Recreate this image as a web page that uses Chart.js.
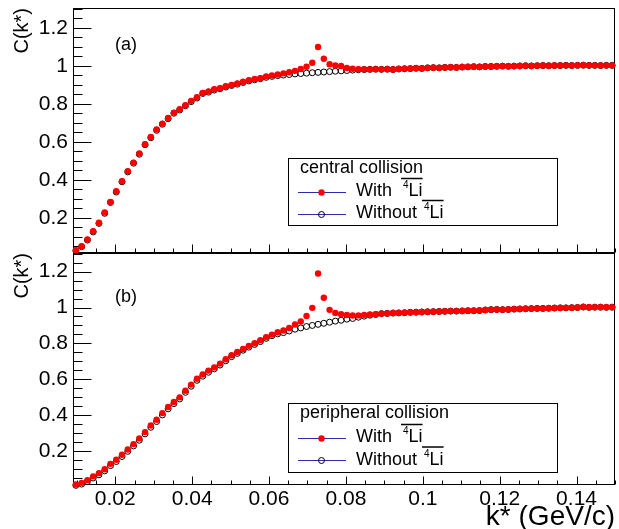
<!DOCTYPE html>
<html>
<head>
<meta charset="utf-8">
<script src="https://cdn.jsdelivr.net/npm/chart.js@4.4.0/dist/chart.umd.min.js"></script>
<style>
  html, body { margin: 0; padding: 0; background: #fff; }
  #wrap { position: relative; width: 619px; height: 529px; }
  #wrap canvas { position: absolute; left: 0; top: 0; }
</style>
</head>
<body>
<div id="wrap">
  <canvas id="centralChart" width="619" height="529"></canvas>
  <canvas id="peripheralChart" width="619" height="529"></canvas>
</div>
<script>
// k* bin centres (GeV/c)
const kStar = [
  0.00975, 0.01125, 0.01275, 0.01425, 0.01575, 0.01725, 0.01875, 0.02025, 0.02175, 0.02325,
  0.02475, 0.02625, 0.02775, 0.02925, 0.03075, 0.03225, 0.03375, 0.03525, 0.03675, 0.03825,
  0.03975, 0.04125, 0.04275, 0.04425, 0.04575, 0.04725, 0.04875, 0.05025, 0.05175, 0.05325,
  0.05475, 0.05625, 0.05775, 0.05925, 0.06075, 0.06225, 0.06375, 0.06525, 0.06675, 0.06825,
  0.06975, 0.07125, 0.07275, 0.07425, 0.07575, 0.07725, 0.07875, 0.08025, 0.08175, 0.08325,
  0.08475, 0.08625, 0.08775, 0.08925, 0.09075, 0.09225, 0.09375, 0.09525, 0.09675, 0.09825,
  0.09975, 0.10125, 0.10275, 0.10425, 0.10575, 0.10725, 0.10875, 0.11025, 0.11175, 0.11325,
  0.11475, 0.11625, 0.11775, 0.11925, 0.12075, 0.12225, 0.12375, 0.12525, 0.12675, 0.12825,
  0.12975, 0.13125, 0.13275, 0.13425, 0.13575, 0.13725, 0.13875, 0.14025, 0.14175, 0.14325,
  0.14475, 0.14625, 0.14775, 0.14925
];

// (a) central collision
const centralWith = [
  0.030, 0.051, 0.086, 0.130, 0.174, 0.228, 0.284, 0.340, 0.393, 0.446,
  0.491, 0.539, 0.588, 0.626, 0.665, 0.696, 0.726, 0.754, 0.772, 0.793,
  0.816, 0.835, 0.858, 0.866, 0.877, 0.883, 0.893, 0.900, 0.908, 0.917,
  0.925, 0.931, 0.936, 0.945, 0.950, 0.955, 0.961, 0.967, 0.974, 0.984,
  0.996, 1.017, 1.100, 1.038, 1.009, 1.002, 1.000, 0.989, 0.985, 0.983,
  0.982, 0.982, 0.983, 0.982, 0.983, 0.981, 0.984, 0.985, 0.986, 0.988,
  0.987, 0.990, 0.991, 0.990, 0.992, 0.993, 0.992, 0.994, 0.995, 0.996,
  0.995, 0.997, 0.997, 0.998, 0.999, 0.998, 0.999, 1.000, 1.001, 1.000,
  1.001, 1.002, 1.001, 1.002, 1.002, 1.003, 1.002, 1.003, 1.004, 1.003,
  1.003, 1.002, 1.003, 1.003
];
const centralWithout = [
  0.027, 0.048, 0.083, 0.126, 0.171, 0.224, 0.281, 0.336, 0.390, 0.442,
  0.488, 0.535, 0.585, 0.622, 0.661, 0.693, 0.722, 0.751, 0.768, 0.790,
  0.812, 0.831, 0.855, 0.862, 0.873, 0.880, 0.889, 0.897, 0.904, 0.913,
  0.921, 0.927, 0.933, 0.940, 0.945, 0.949, 0.952, 0.955, 0.958, 0.960,
  0.962, 0.964, 0.966, 0.968, 0.970, 0.972, 0.974, 0.976, 0.978, 0.980,
  0.981, 0.982, 0.983, 0.982, 0.983, 0.981, 0.984, 0.985, 0.986, 0.988,
  0.987, 0.990, 0.991, 0.990, 0.992, 0.993, 0.992, 0.994, 0.995, 0.996,
  0.995, 0.997, 0.997, 0.998, 0.999, 0.998, 0.999, 1.000, 1.001, 1.000,
  1.001, 1.002, 1.001, 1.002, 1.002, 1.003, 1.002, 1.003, 1.004, 1.003,
  1.003, 1.002, 1.003, 1.003
];

// (b) peripheral collision
const peripheralWith = [
  0.013, 0.022, 0.037, 0.058, 0.076, 0.098, 0.128, 0.151, 0.179, 0.208,
  0.238, 0.270, 0.305, 0.342, 0.374, 0.411, 0.445, 0.473, 0.499, 0.536,
  0.570, 0.603, 0.626, 0.648, 0.666, 0.687, 0.711, 0.734, 0.752, 0.769,
  0.786, 0.801, 0.817, 0.835, 0.849, 0.862, 0.872, 0.886, 0.905, 0.922,
  0.953, 0.998, 1.190, 1.054, 0.987, 0.970, 0.962, 0.958, 0.955, 0.956,
  0.959, 0.961, 0.963, 0.966, 0.967, 0.969, 0.970, 0.971, 0.973, 0.974,
  0.975, 0.976, 0.977, 0.978, 0.979, 0.980, 0.980, 0.981, 0.982, 0.982,
  0.983, 0.986, 0.988, 0.989, 0.988, 0.989, 0.991, 0.992, 0.993, 0.994,
  0.995, 0.995, 0.996, 0.997, 0.998, 0.998, 0.999, 1.000, 1.003, 1.001,
  1.002, 1.002, 1.001, 1.002
];
const peripheralWithout = [
  0.008, 0.015, 0.029, 0.049, 0.067, 0.089, 0.118, 0.141, 0.169, 0.198,
  0.228, 0.260, 0.295, 0.332, 0.364, 0.401, 0.435, 0.464, 0.490, 0.527,
  0.561, 0.594, 0.617, 0.639, 0.658, 0.679, 0.703, 0.726, 0.744, 0.762,
  0.779, 0.794, 0.810, 0.828, 0.843, 0.853, 0.860, 0.869, 0.879, 0.886,
  0.894, 0.900, 0.906, 0.912, 0.918, 0.924, 0.929, 0.935, 0.939, 0.946,
  0.952, 0.957, 0.961, 0.966, 0.967, 0.969, 0.970, 0.971, 0.973, 0.974,
  0.975, 0.976, 0.977, 0.978, 0.979, 0.980, 0.980, 0.981, 0.982, 0.982,
  0.983, 0.986, 0.988, 0.989, 0.988, 0.989, 0.991, 0.992, 0.993, 0.994,
  0.995, 0.995, 0.996, 0.997, 0.998, 0.998, 0.999, 1.000, 1.003, 1.001,
  1.002, 1.002, 1.001, 1.002
];

const xTickLabels = ['0.02', '0.04', '0.06', '0.08', '0.1', '0.12', '0.14'];
const yTickLabels = ['0.2', '0.4', '0.6', '0.8', '1', '1.2'];

const FONT = '"Liberation Sans", Arial, Helvetica, sans-serif';

// Build {x, y} points from the arrays
function toPoints(values) {
  return kStar.map((k, i) => ({ x: k, y: values[i] }));
}

// ROOT-like tick sets: minor every step, labels only on the listed majors
function tickSet(min, max, step) {
  const out = [];
  const first = Math.ceil(min / step - 1e-9);
  const last = Math.floor(max / step + 1e-9);
  for (let i = first; i <= last; i++) out.push({ value: +(i * step).toFixed(4) });
  return out;
}
function findLabel(labels, value) {
  const hit = labels.find(l => Math.abs(parseFloat(l) - value) < 1e-6);
  return hit === undefined ? '' : hit;
}

// Frame + inward ticks, drawn under the markers
const rootFrame = {
  id: 'rootFrame',
  beforeDatasetsDraw(chart) {
    const { ctx, chartArea: a, scales } = chart;
    const L = Math.round(a.left) + 0.5, R = Math.round(a.right) - 0.5;
    const T = Math.round(a.top) + 0.5, B = Math.round(a.bottom) - 0.5;
    ctx.save();
    ctx.strokeStyle = '#000';
    ctx.lineWidth = 1;
    ctx.strokeRect(L, T, R - L, B - T);
    ctx.beginPath();
    scales.y.ticks.forEach(t => {
      const py = Math.round(scales.y.getPixelForValue(t.value)) + 0.5;
      const len = findLabel(yTickLabels, t.value) ? 18 : 9;
      ctx.moveTo(L, py); ctx.lineTo(L + len, py);
    });
    scales.x.ticks.forEach(t => {
      const px = Math.round(scales.x.getPixelForValue(t.value)) + 0.5;
      const len = findLabel(xTickLabels, t.value) ? 8 : 4;
      ctx.moveTo(px, B); ctx.lineTo(px, B - len);
    });
    ctx.stroke();
    ctx.restore();
  },
  afterDraw(chart, args, o) {
    const ctx = chart.ctx;
    ctx.save();
    ctx.font = '18px ' + FONT;
    ctx.fillStyle = '#000';
    ctx.textBaseline = 'middle';
    ctx.fillText(o.tag, o.tagX, o.tagY);
    ctx.restore();
  }
};

// Legend box in ROOT style (line through marker, overlined 4Li)
const rootLegend = {
  id: 'rootLegend',
  afterDraw(chart, args, o) {
    const ctx = chart.ctx;
    const [bx, by, bw, bh] = o.box;
    ctx.save();
    ctx.fillStyle = '#fff';
    ctx.fillRect(bx, by, bw, bh);
    ctx.strokeStyle = '#000';
    ctx.lineWidth = 1;
    ctx.strokeRect(bx + 0.5, by + 0.5, bw - 1, bh - 1);

    ctx.fillStyle = '#000';
    ctx.textBaseline = 'middle';
    ctx.textAlign = 'left';
    ctx.font = '18px ' + FONT;
    ctx.fillText(o.header, bx + 12, o.rows[0]);

    chart.data.datasets.forEach((ds, i) => {
      const y = o.rows[i + 1];
      ctx.strokeStyle = '#2b2bb0';
      ctx.lineWidth = 1;
      ctx.beginPath();
      ctx.moveTo(bx + 10, Math.round(y) + 0.5);
      ctx.lineTo(bx + 58, Math.round(y) + 0.5);
      ctx.stroke();

      ctx.fillStyle = ds.backgroundColor;
      ctx.strokeStyle = ds.borderColor;
      ctx.lineWidth = ds.borderWidth || 0.01;
      Chart.helpers.drawPoint(ctx, { pointStyle: 'circle', radius: ds.pointRadius, borderWidth: ds.borderWidth, rotation: 0 }, bx + 33.5, Math.round(y) + 0.5);

      const tx = bx + 68;
      ctx.fillStyle = '#000';
      ctx.font = '18px ' + FONT;
      ctx.fillText(ds.label, tx, y);
      const supX = tx + ctx.measureText(ds.label).width + o.supGap[i];
      ctx.font = '10px ' + FONT;
      ctx.fillText('4', supX, y - 6);
      const liX = supX + ctx.measureText('4').width;
      ctx.font = '18px ' + FONT;
      ctx.fillText('Li', liX, y);
      const endX = liX + ctx.measureText('Li').width;
      ctx.strokeStyle = '#000';
      ctx.lineWidth = 1.5;
      ctx.beginPath();
      ctx.moveTo(supX - 2, y - 13);
      ctx.lineTo(endX, y - 13);
      ctx.stroke();
    });
    ctx.restore();
  }
};

function makeDatasets(withValues, withoutValues) {
  return [
    {
      label: 'With',
      data: toPoints(withValues),
      pointStyle: 'circle',
      pointRadius: 3.2,
      pointHoverRadius: 3.2,
      backgroundColor: '#ff0000',
      borderColor: '#ff0000',
      borderWidth: 0,
      showLine: false,
      clip: false,
      order: 0
    },
    {
      label: 'Without',
      data: toPoints(withoutValues),
      pointStyle: 'circle',
      pointRadius: 3.0,
      pointHoverRadius: 3.0,
      backgroundColor: 'rgba(0,0,0,0)',
      borderColor: '#000',
      borderWidth: 1,
      showLine: false,
      clip: false,
      order: 1
    }
  ];
}

function makeOptions(cfg) {
  return {
    responsive: false,
    animation: false,
    events: [],
    layout: { padding: { left: 0, right: 2, top: cfg.top, bottom: 0 } },
    plugins: {
      legend: { display: false },
      tooltip: { enabled: false },
      rootFrame: { tag: cfg.tag, tagX: 115, tagY: cfg.tagY },
      rootLegend: { header: cfg.header, box: cfg.box, rows: cfg.rows, supGap: [11, 7] }
    },
    scales: {
      x: {
        type: 'linear',
        min: 0.009,
        max: 0.15,
        grid: { display: false, drawTicks: false },
        border: { display: false },
        afterBuildTicks: s => { s.ticks = tickSet(0.009, 0.15, 0.005); },
        afterFit: s => { s.height = cfg.xHeight; s.paddingLeft = 0; s.paddingRight = 0; },
        ticks: {
          display: cfg.showX,
          autoSkip: false,
          maxRotation: 0,
          padding: 2,
          color: '#000',
          font: { family: FONT, size: 21 },
          callback: v => findLabel(xTickLabels, v)
        },
        title: {
          display: cfg.showX,
          text: 'k* (GeV/c)',
          align: 'end',
          color: '#000',
          font: { family: FONT, size: 28, lineHeight: 0.85 },
          padding: 0
        }
      },
      y: {
        type: 'linear',
        min: cfg.yMin,
        max: cfg.yMax,
        grid: { display: false, drawTicks: false },
        border: { display: false },
        afterBuildTicks: s => { s.ticks = tickSet(cfg.yMin, cfg.yMax, 0.05); },
        afterFit: s => { s.width = 73; s.paddingTop = 0; s.paddingBottom = 0; },
        ticks: {
          autoSkip: false,
          padding: 5,
          color: '#000',
          font: { family: FONT, size: 21 },
          callback: v => findLabel(yTickLabels, v)
        },
        title: {
          display: true,
          text: 'C(k*)',
          align: 'end',
          color: '#000',
          font: { family: FONT, size: 20 },
          padding: { top: 10, bottom: 0 }
        }
      }
    }
  };
}

// (a) central
new Chart(document.getElementById('centralChart'), {
  type: 'scatter',
  data: { datasets: makeDatasets(centralWith, centralWithout) },
  options: makeOptions({
    top: 8, xHeight: 276, yMin: 0.015, yMax: 1.305, showX: false,
    tag: '(a)', tagY: 45,
    header: 'central collision', box: [288, 158, 270, 68], rows: [168.5, 191.5, 213.5]
  }),
  plugins: [rootFrame, rootLegend]
});

// (b) peripheral
new Chart(document.getElementById('peripheralChart'), {
  type: 'scatter',
  data: { datasets: makeDatasets(peripheralWith, peripheralWithout) },
  options: makeOptions({
    top: 253, xHeight: 44, yMin: 0.01, yMax: 1.304, showX: true,
    tag: '(b)', tagY: 297,
    header: 'peripheral collision', box: [288, 403, 270, 70], rows: [413.5, 437.5, 460]
  }),
  plugins: [rootFrame, rootLegend]
});
</script>
</body>
</html>
